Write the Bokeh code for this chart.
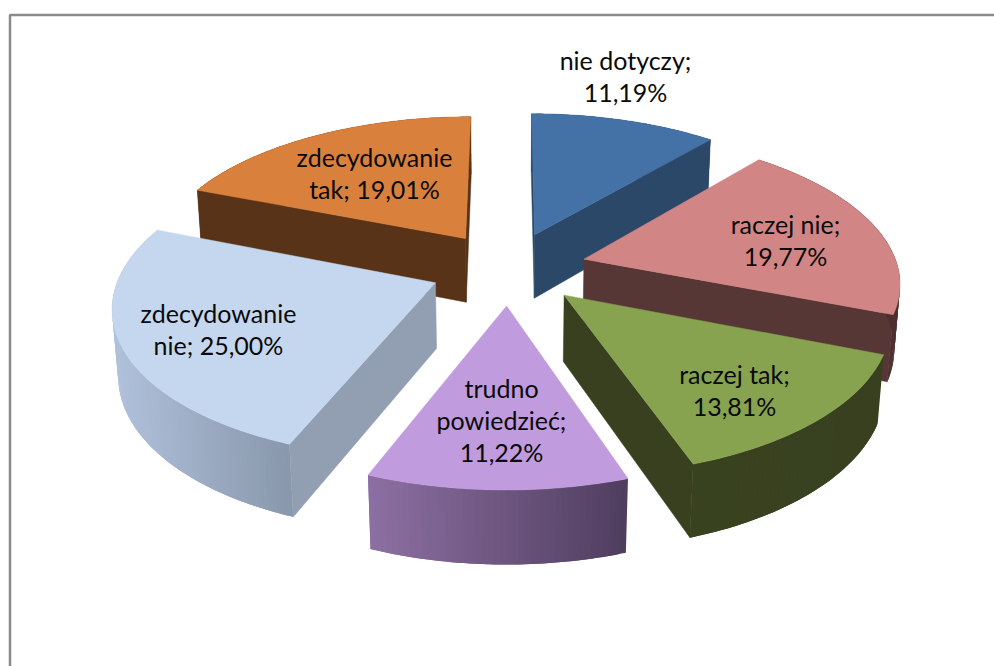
import numpy as np
from bokeh.plotting import figure
from bokeh.models import Range1d
from bokeh.core.properties import value as bvalue
from bokeh.embed import file_html
from bokeh.resources import INLINE

categories = ["nie dotyczy", "raczej nie", "raczej tak", "trudno powiedzieć", "zdecydowanie nie", "zdecydowanie tak"]
shares = [11.19, 19.77, 13.81, 11.22, 25.00, 19.01]
top_colors = ["#4472a6", "#d28585", "#87a34f", "#c09bde", "#c5d7ef", "#d9813c"]
face_colors = ["#2b4869", "#573636", "#384020", "#5f4a72", "#929fb2", "#593318"]
arc_left = ["#2b4869", "#573636", "#39421f", "#8d70a3", "#b0c1db", "#593318"]
arc_right = ["#2b4869", "#4f3030", "#384020", "#4f3d5e", "#8897ab", "#593318"]
label_lines = [["nie dotyczy;"], ["raczej nie;"], ["raczej tak;"], ["trudno", "powiedzieć;"], ["zdecydowanie", "nie;"], ["zdecydowanie", "tak;"]]
label_pos = [(625, 59), (785, 223), (734, 373), (501, 387), (218, 312), (374, 156)]
draw_order = [0, 5, 1, 4, 2, 3]

# projection parameters of the 3-D view
CX, CY, A, B, D, P, Q, EXPLODE = 508.0, 267.5, 314.0, 146.5, 66.0, 0.14, 0.015, 0.25

def project(a, b, h=0.0):
    w = 1 + P * b + Q * h
    return CX + A * a / w, CY + (-B * b + D * h) / w

def hex2rgb(c):
    return np.array([int(c[i:i + 2], 16) for i in (1, 3, 5)], float)

def mix(c1, c2, t):
    r = hex2rgb(c1) * (1 - t) + hex2rgb(c2) * t
    return "#%02x%02x%02x" % tuple(int(round(v)) for v in r)

p = figure(width=994, height=666, x_range=Range1d(0, 994), y_range=Range1d(666, 0),
           output_backend="svg", toolbar_location=None, min_border=0,
           outline_line_color=None, background_fill_color="white", border_fill_color="white")
p.axis.visible = False
p.grid.visible = False
p.line([9.5, 9.5, 994], [666, 14.5, 14.5], line_color="#8a8a8a", line_width=2.5)

fractions = np.array(shares) / sum(shares)
starts = np.concatenate([[0], np.cumsum(fractions)[:-1]]) * 2 * np.pi
ends = np.cumsum(fractions) * 2 * np.pi

for i in draw_order:
    t0, t1 = starts[i], ends[i]
    mid = (t0 + t1) / 2
    a0, b0 = EXPLODE * np.sin(mid), EXPLODE * np.cos(mid)
    th = np.linspace(t0, t1, max(8, int(shares[i] * 4)))
    aa, bb = a0 + np.sin(th), b0 + np.cos(th)
    tx, ty = project(aa, bb, 0.0)
    lx, ly = project(aa, bb, 1.0)
    ax, ay = project(a0, b0, 0.0)
    ux, uy = project(a0, b0, 1.0)
    # radial faces: only those that turn towards the viewer
    mx, my = tx.mean() - ax, ty.mean() - ay
    for k in (0, -1):
        ex, ey = tx[k] - ax, ty[k] - ay
        if np.sign(ex) != np.sign(ex * my - ey * mx):
            p.patch([ax, tx[k], lx[k], ux], [ay, ty[k], ly[k], uy],
                    fill_color=face_colors[i], line_color=face_colors[i], line_width=0.5)
    # outer surface: overlapping bands painted in sequence give the gradient without seams
    xmin, xmax = tx.min(), tx.max()
    xs, ys, cols = [], [], []
    n = len(th)
    for k in range(n - 1):
        e = min(k + 2, n - 1)
        idx = list(range(k, e + 1))
        xs.append(list(tx[idx]) + list(lx[idx][::-1]))
        ys.append(list(ty[idx]) + list(ly[idx][::-1]))
        t = ((tx[k] + tx[k + 1]) / 2 - xmin) / max(xmax - xmin, 1)
        cols.append(mix(arc_left[i], arc_right[i], t))
    p.patches(xs, ys, fill_color=cols, line_color=None)
    # top
    p.patch(np.concatenate([[ax], tx]), np.concatenate([[ay], ty]),
            fill_color=top_colors[i], line_color=top_colors[i], line_width=0.5)

LINE = 32.3
for i, (lines, pos) in enumerate(zip(label_lines, label_pos)):
    pct = f"{shares[i]:.2f}".replace(".", ",") + "%"
    rows = list(lines)
    if lines[0] == "zdecydowanie":
        rows = [lines[0], lines[1] + " " + pct]
    else:
        rows = rows + [pct]
    for j, s in enumerate(rows):
        p.text([pos[0]], [pos[1] + j * LINE], text=[s], text_font=bvalue("Lato"),
               text_font_size="25px", text_align="center", text_baseline="middle",
               text_color="#0a0a0a", text_font_style="normal")

open("out.html", "w").write(file_html(p, INLINE))
